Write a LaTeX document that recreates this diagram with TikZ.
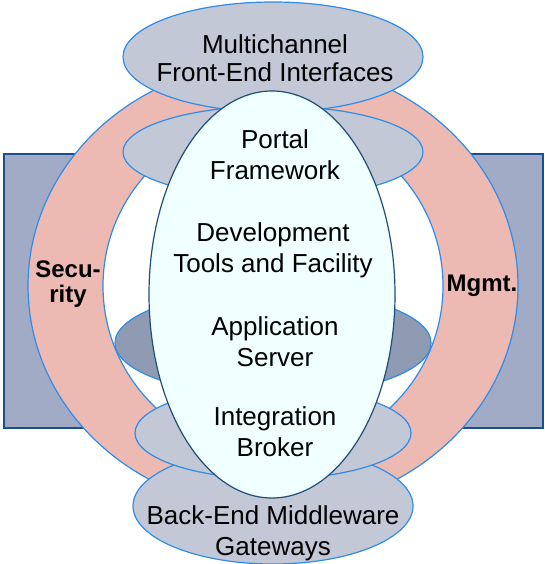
\documentclass[tikz,border=0pt]{standalone}
\usepackage{fontspec}
\setmainfont{Liberation Sans}
\usetikzlibrary{shapes.geometric}
\definecolor{frameblue}{HTML}{1B4F8C}
\definecolor{framefill}{HTML}{A2ABC6}
\definecolor{ringpink}{HTML}{EDB9B3}
\definecolor{lineblue}{HTML}{2E8CEB}
\definecolor{layergray}{HTML}{C3C8D7}
\definecolor{layerdark}{HTML}{8F9AB3}
\definecolor{coreblue}{HTML}{1F4E79}
\definecolor{corefill}{HTML}{F0FFFF}

\begin{document}
\begin{tikzpicture}[x=1pt, y=-1pt,
  layer/.style={ellipse, draw=lineblue, line width=1.2pt, fill=layergray, inner sep=0pt},
  txt/.style={align=center, font=\fontsize{26}{31}\selectfont},
  sidetxt/.style={align=center, font=\fontsize{24}{25}\selectfont\bfseries},
]
\useasboundingbox (0,0) rectangle (545,564);
% frame and ring
\node[rectangle, draw=frameblue, line width=2pt, fill=framefill, inner sep=0pt,
      minimum width=539pt, minimum height=274pt] (frame) at (273.5,291) {};
\node[layer, fill=ringpink, minimum width=490pt, minimum height=448pt] (ring) at (273,286) {};
\node[layer, fill=white, minimum width=340pt, minimum height=336pt] (hole) at (273,286) {};
% layers
\node[layer, fill=layerdark, minimum width=316pt, minimum height=106pt] (appserver) at (273,343) {};
\node[layer, minimum width=300pt, minimum height=92pt] (portal) at (273,152) {};
\node[layer, minimum width=300pt, minimum height=110pt] (frontend) at (273,57) {};
\node[layer, minimum width=280pt, minimum height=116pt] (backend) at (273,506) {};
\node[layer, minimum width=276pt, minimum height=92pt] (broker) at (273,433) {};
\node[ellipse, draw=coreblue, line width=1.2pt, fill=corefill, inner sep=0pt,
      minimum width=246pt, minimum height=407pt] (core) at (272,294.5) {};
% texts
\node[txt, font=\fontsize{26}{28}\selectfont] (frontendtxt) at (275,58) {Multichannel\\Front-End Interfaces};
\node[txt] (portaltxt) at (275,155) {Portal\\Framework};
\node[txt] (devtxt) at (273,250) {Development\\Tools and Facility};
\node[txt] (apptxt) at (275,342) {Application\\Server};
\node[txt] (brokertxt) at (275,432) {Integration\\Broker};
\node[txt] (backendtxt) at (273,533) {Back-End Middleware\\Gateways};
\node[sidetxt] (security) at (68,284) {Secu-\\rity};
\node[sidetxt] (mgmt) at (482,286) {Mgmt.};
\end{tikzpicture}
\end{document}
